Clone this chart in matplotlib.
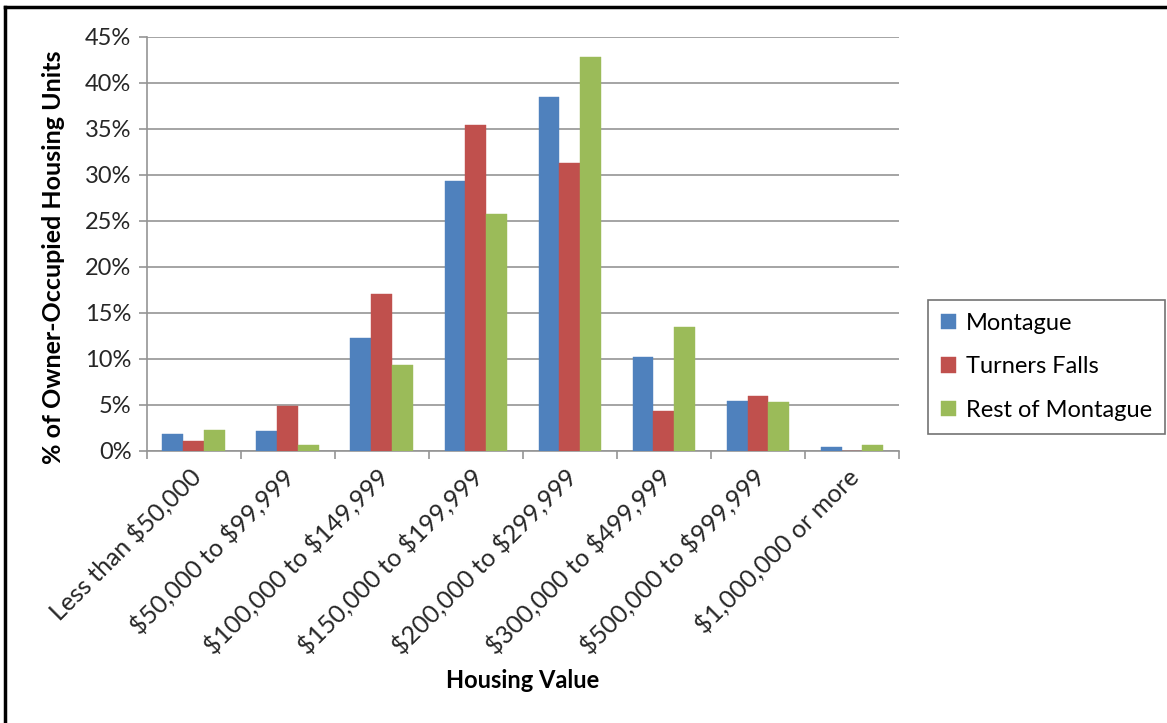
import numpy as np
import matplotlib
matplotlib.use("Agg")
import matplotlib.pyplot as plt
from matplotlib.lines import Line2D
from matplotlib.ticker import FuncFormatter, MultipleLocator

plt.rcParams['font.family'] = ['Lato', 'DejaVu Sans']
plt.rcParams['text.parse_math'] = False

# housing value bins and share of owner-occupied units (%)
categories = ["Less than $50,000", "$50,000 to $99,999", "$100,000 to $149,999",
              "$150,000 to $199,999", "$200,000 to $299,999", "$300,000 to $499,999",
              "$500,000 to $999,999", "$1,000,000 or more"]
montague = [1.8, 2.1, 12.3, 29.3, 38.5, 10.2, 5.4, 0.4]
turners_falls = [1.1, 4.9, 17.0, 35.4, 31.3, 4.3, 5.9, 0.0]
rest_of_montague = [2.2, 0.6, 9.3, 25.7, 42.8, 13.5, 5.3, 0.6]

series = [("Montague", montague, "#4F81BD"),
          ("Turners Falls", turners_falls, "#C0504D"),
          ("Rest of Montague", rest_of_montague, "#9BBB59")]

fig = plt.figure(figsize=(11.67, 7.23), dpi=100)
ax = fig.add_axes([0.1257, 0.3766, 0.6447, 0.5726])

x = np.arange(len(categories))
w = 1 / 4.5  # gap width 150%
for i, (name, vals, col) in enumerate(series):
    ax.bar(x + (i - 1) * w, vals, width=w, color=col, label=name, zorder=3,
           edgecolor=col, linewidth=0.3)

ax.set_xlim(-0.5, len(categories) - 0.5)
ax.set_ylim(0, 45)
ax.yaxis.set_major_locator(MultipleLocator(5))
ax.yaxis.set_major_formatter(FuncFormatter(lambda v, p: f"{v:.0f}%"))
ax.grid(axis='y', color='#959595', linewidth=1.2, zorder=0)
ax.set_axisbelow(True)

for s in ['top', 'right']:
    ax.spines[s].set_visible(False)
for s in ['left', 'bottom']:
    ax.spines[s].set_color('#959595')
    ax.spines[s].set_linewidth(1.2)

ax.tick_params(axis='y', colors='#959595', length=6, width=1.2, labelsize=17,
               labelcolor='#262626', pad=5)
ax.set_xticks(np.arange(len(categories) + 1) - 0.5)
ax.set_xticklabels([])
ax.tick_params(axis='x', colors='#959595', length=6, width=1.2)

# rotated category labels, ending under each group centre
for xi, lab in zip(x, categories):
    ax.annotate(lab, xy=(xi, 0), xycoords='data', xytext=(2, -16),
                textcoords='offset points', rotation=45, rotation_mode='anchor',
                ha='right', va='center', fontsize=18, color='#262626')

fig.text(54 / 1167, 1 - 257 / 723, "% of Owner-Occupied Housing Units", fontsize=18,
         fontweight='bold', rotation=90, ha='center', va='center')
fig.text(0.4478, 1 - 680 / 723, "Housing Value", fontsize=17, fontweight='bold',
         ha='center', va='center')

leg = ax.legend(loc='center left', bbox_to_anchor=(1.0386, 0.203), fontsize=17,
                frameon=True, fancybox=False, edgecolor='#505050',
                handlelength=0.64, handleheight=0.64, handletextpad=0.4,
                labelspacing=0.95, borderpad=0.55, borderaxespad=0)
leg.get_frame().set_linewidth(1.2)

# outer border on top and left
fig.add_artist(Line2D([0.004, 1.0], [0.991, 0.991], transform=fig.transFigure,
                      color='black', linewidth=2.5))
fig.add_artist(Line2D([0.0045, 0.0045], [0.0, 0.991], transform=fig.transFigure,
                      color='black', linewidth=2.5))

fig.savefig("out.png", dpi=100)
